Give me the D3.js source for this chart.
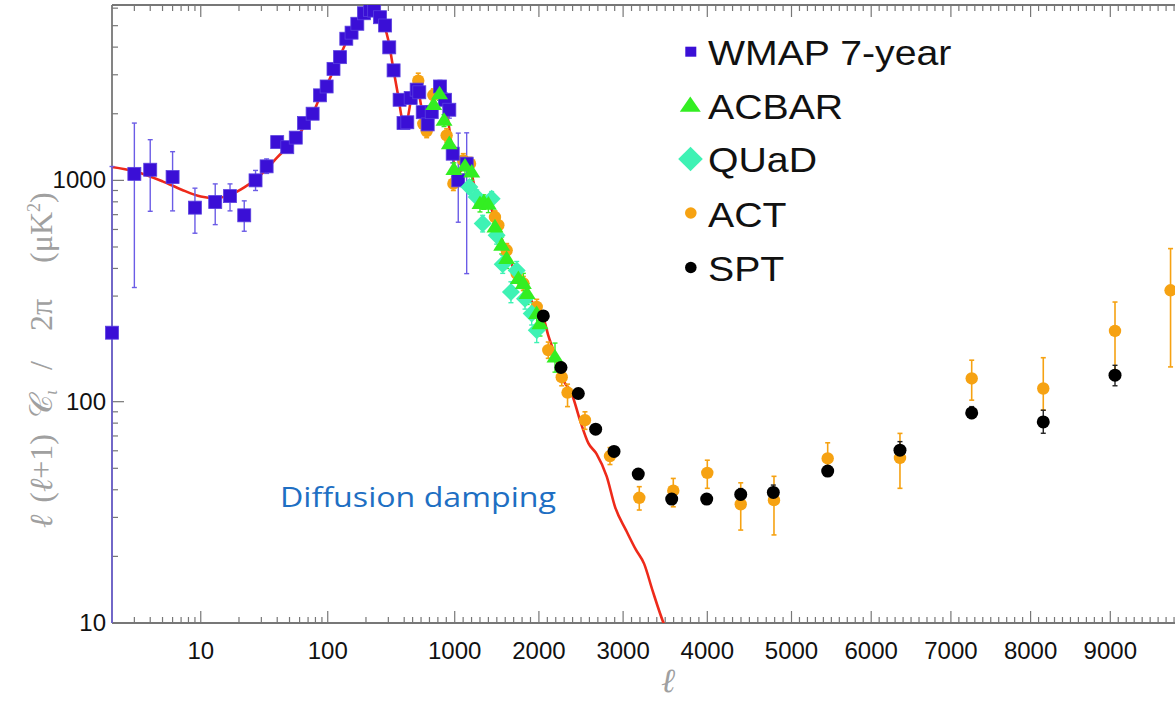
<!DOCTYPE html>
<html><head><meta charset="utf-8">
<script src="https://cdn.jsdelivr.net/npm/d3@7"></script>
<style>html,body{margin:0;padding:0;background:#fff;} svg{display:block}</style>
</head><body>
<svg id="chart" width="1175" height="716"></svg>
<script>
// ---------- DATA ----------
const wmapEll = [2, 3, 4, 6, 9, 13, 17, 22, 27, 33, 40, 48, 56, 65, 76, 87, 98, 111, 125, 140, 154, 171, 193, 215, 232, 258, 283, 305, 330, 368, 395, 437, 477, 548, 579, 620, 679, 727, 825, 885, 936, 976, 1042, 1142];
const wmapVal = [205, 1070, 1117, 1035, 753, 798, 849, 695, 1000, 1157, 1489, 1412, 1560, 1815, 2001, 2422, 2656, 3190, 3604, 4365, 4650, 5100, 5690, 5890, 5850, 5460, 5010, 3990, 3140, 2313, 1815, 1830, 2355, 2570, 2500, 2033, 1790, 2033, 2656, 2313, 2085, 1320, 1000, 1190];
const wmapLo  = [5, 328, 725, 728, 577, 631, 728, 589, 900, 1075, 1420, 1350, 1500, 1750, 1930, 2340, 2570, 3090, 3500, 4250, 4540, 4990, 5580, 5780, 5740, 5350, 4900, 3890, 3050, 2230, 1740, 1740, 2240, 2430, 2360, 1900, 1650, 1880, 2480, 2140, 1910, 1200, 647, 379];
const wmapHi  = [1155, 1815, 1527, 1348, 922, 964, 964, 808, 1109, 1250, 1560, 1480, 1620, 1880, 2070, 2500, 2740, 3290, 3710, 4480, 4760, 5210, 5800, 6000, 5960, 5570, 5120, 4090, 3230, 2400, 1890, 1920, 2470, 2710, 2640, 2170, 1930, 2190, 2830, 2490, 2260, 1440, 1635, 1640];

const acbarEll = [750, 820, 873, 936, 990, 1122, 1202, 1300, 1345, 1400, 1478, 1558, 1617, 1756, 1815, 1860, 1973, 2013, 2191];
const acbarVal = [2200, 2460, 1866, 1464, 1120, 1160, 1090, 785, 800, 780, 616, 509, 443, 360, 342, 308, 250, 225, 159];
const acbarLo  = [2060, 2300, 1750, 1370, 1040, 1070, 1000, 720, 740, 715, 565, 465, 400, 325, 305, 275, 222, 198, 136];
const acbarHi  = [2340, 2620, 1980, 1560, 1200, 1250, 1180, 850, 860, 845, 670, 555, 485, 395, 380, 342, 280, 255, 184];

const quadEll = [1174, 1261, 1332, 1439, 1498, 1570, 1668, 1736, 1835, 1914, 1974];
const quadVal = [934, 841, 638, 827, 565, 418, 313, 392, 292, 250, 210];
const quadLo  = [870, 780, 585, 765, 515, 380, 280, 355, 262, 222, 185];
const quadHi  = [1000, 905, 695, 890, 615, 458, 348, 430, 325, 280, 238];

const actEll = [567, 627, 667, 746, 904, 984, 1102, 1182, 1478, 1518, 1617, 1736, 1815, 1974, 2111, 2271, 2340, 2547, 2844, 3192, 3596, 4000, 4397, 4792, 5454, 6361, 7261, 8159, 9059, 9756];
const actVal = [2820, 1800, 1670, 2430, 1597, 966, 1231, 1189, 683, 627, 483, 379, 342, 268, 171, 129, 110, 82.5, 56.8, 36.8, 39.6, 47.7, 34.4, 35.9, 55.4, 55.7, 127.3, 114.7, 208.7, 318.7];
const actLo  = [2600, 1680, 1560, 2280, 1490, 900, 1150, 1110, 640, 585, 450, 352, 318, 248, 157, 118, 95, 75, 52, 32.4, 33.5, 40.6, 26.3, 25, 47, 40.6, 101.6, 91.5, 131.7, 143.6];
const actHi  = [3050, 1920, 1790, 2590, 1710, 1035, 1320, 1270, 728, 670, 518, 406, 368, 290, 186, 141, 120, 90, 62, 41.3, 45, 54.4, 43, 46, 65.2, 71.9, 154, 158, 282, 491.7];

const sptEll = [2052, 2262, 2468, 2674, 2892, 3180, 3577, 3993, 4397, 4784, 5454, 6361, 7261, 8159, 9059];
const sptVal = [244, 142.7, 108.9, 75.1, 59.6, 47.1, 36.3, 36.3, 38.1, 38.9, 48.6, 60.4, 89, 81, 131.7];
const sptLo  = [236, 138, 105, 72.5, 57.5, 45.3, 34.8, 34.8, 36, 36.3, 46.5, 55, 84, 72, 118];
const sptHi  = [252, 147, 113, 78, 62, 49, 38, 38, 40.5, 42, 51, 66, 95, 91.5, 146];

const theoryEll = [2,3,5,7,10,13,17,22,27,33,40,48,56,65,76,87,100,111,125,141,160,190,220,240,258,280,300,330,360,385,410,440,480,528,570,608,650,700,750,805,850,904,964,1003,1050,1120,1180,1260,1320,1400,1450,1500,1600,1700,1800,1900,2000,2052,2110,2171,2290,2389,2488,2587,2686,2805,2904,3034,3150,3250,3350,3480,3560];
const theoryVal = [1150,1100,990,910,845,830,860,930,1010,1125,1270,1410,1560,1740,2000,2380,2750,3140,3650,4262,4950,5600,5900,5800,5500,4950,4300,3140,2380,1890,1790,1900,2300,2620,2500,2100,1800,1900,2250,2580,2450,2050,1430,1120,1080,1180,1130,860,790,800,720,640,490,400,345,290,255,240,200,171,125,109,82.5,65,58,46,33.5,26.3,21.5,18.5,14,10,8.5];

const xMajorTicks = [10, 100, 1000, 2000, 3000, 4000, 5000, 6000, 7000, 8000, 9000];
const xTickLabels = ["10", "100", "1000", "2000", "3000", "4000", "5000", "6000", "7000", "8000", "9000"];
const yMajorTicks = [10, 100, 1000];
const yTickLabels = ["10", "100", "1000"];
const legendNames = ["WMAP 7-year", "ACBAR", "QUaD", "ACT", "SPT"];

// ---------- SCALES ----------
const svg = d3.select("#chart");
const P = {left:112, top:5, bottom:623, right:1190};
const xLog = d3.scaleLog().domain([2, 400]).range([P.left, 404.2]);
const xLin = d3.scaleLinear().domain([400, 5000, 10000]).range([404.2, 791.5, 1190]);
const x = l => l <= 400 ? xLog(l) : xLin(l);
const y = d3.scaleLog().domain([10, 6200]).range([P.bottom, P.top]);

const colors = {wmap:"#3a0fd6", wmapErr:"#6b5ce6", acbar:"#33ee22", quad:"#3ef2b4", act:"#f6a212", spt:"#000000", theory:"#ee2a1a"};

svg.append("rect").attr("width",1175).attr("height",716).attr("fill","#fff");
const defs = svg.append("defs");
defs.append("clipPath").attr("id","clip").append("rect")
  .attr("x",P.left-8).attr("y",P.top).attr("width",P.right-P.left+8).attr("height",P.bottom-P.top);

// ---------- AXES ----------
const axisCol = "#777";
const ax = svg.append("g");
const xMinor = [];
[3,4,5,6,7,8,9,20,30,40,50,60,70,80,90,200,300,400].forEach(v=>xMinor.push(v));
for (let v=500; v<=10000; v+=100) if (v%1000!==0) xMinor.push(v);
const yMinor = [];
[20,30,40,50,60,70,80,90,200,300,400,500,600,700,800,900,2000,3000,4000,5000,6000].forEach(v=>yMinor.push(v));

function xtick(v, len){
  const px = x(v);
  if (px > 1176) return;
  ax.append("line").attr("x1",px).attr("x2",px).attr("y1",P.bottom).attr("y2",P.bottom-len).attr("stroke",axisCol).attr("stroke-width",1.2);
  ax.append("line").attr("x1",px).attr("x2",px).attr("y1",P.top).attr("y2",P.top+len).attr("stroke",axisCol).attr("stroke-width",1.2);
}
xMinor.forEach(v=>xtick(v,6));
xMajorTicks.forEach(v=>xtick(v,12));
function ytick(v,len){
  const py = y(v);
  ax.append("line").attr("x1",P.left).attr("x2",P.left+len).attr("y1",py).attr("y2",py).attr("stroke",axisCol).attr("stroke-width",1.2);
}
yMinor.forEach(v=>ytick(v,6));
yMajorTicks.forEach(v=>ytick(v,12));
ax.append("line").attr("x1",P.left).attr("x2",1175).attr("y1",P.bottom).attr("y2",P.bottom).attr("stroke",axisCol).attr("stroke-width",1.8);
ax.append("line").attr("x1",P.left).attr("x2",1175).attr("y1",P.top).attr("y2",P.top).attr("stroke",axisCol).attr("stroke-width",1.8);
ax.append("line").attr("x1",P.left).attr("x2",P.left).attr("y1",P.top).attr("y2",P.bottom).attr("stroke",axisCol).attr("stroke-width",1.8);

svg.append("g").selectAll("text").data(xMajorTicks).join("text")
  .attr("x",d=>x(d)).attr("y",659).attr("text-anchor","middle")
  .attr("font-family","Liberation Sans, Arial, Helvetica, sans-serif").attr("font-size",24).attr("fill","#111")
  .text((d,i)=>xTickLabels[i]);
svg.append("g").selectAll("text").data(yMajorTicks).join("text")
  .attr("x",106).attr("y",d=>y(d)+8).attr("text-anchor","end")
  .attr("font-family","Liberation Sans, Arial, Helvetica, sans-serif").attr("font-size",24).attr("fill","#111")
  .text((d,i)=>yTickLabels[i]);

// axis titles
const yt = svg.append("text").attr("transform","translate(52,528) rotate(-90)").attr("text-anchor","start")
  .attr("font-family","Liberation Serif, DejaVu Serif, serif").attr("font-size",32).attr("fill","#a0a0a0");
yt.append("tspan").attr("font-style","italic").text("ℓ");
yt.append("tspan").attr("dx",12).text("(");
yt.append("tspan").attr("font-style","italic").text("ℓ");
yt.append("tspan").text("+1)");
yt.append("tspan").attr("dx",16).text("𝒞");
yt.append("tspan").attr("font-size",18).attr("dy",5).attr("font-style","italic").text("ι");
yt.append("tspan").attr("dx",20).attr("dy",-5).text("/");
yt.append("tspan").attr("dx",30).text("2π");
yt.append("tspan").attr("dx",36).text("(μK");
yt.append("tspan").attr("font-size",18).attr("dy",-12).text("2");
yt.append("tspan").attr("dy",12).text(")");

svg.append("text").attr("x",668).attr("y",692).attr("text-anchor","middle")
  .attr("font-family","DejaVu Serif, Liberation Serif, serif").attr("font-style","italic").attr("font-size",34).attr("fill","#a0a0a0")
  .text("ℓ");

// ---------- PLOT ----------
const g = svg.append("g").attr("clip-path","url(#clip)");

const line = d3.line().x(d=>x(d[0])).y(d=>y(d[1])).curve(d3.curveMonotoneX);
g.append("path").datum(theoryEll.map((l,i)=>[l,theoryVal[i]]))
  .attr("d",line).attr("fill","none").attr("stroke",colors.theory).attr("stroke-width",2.6);

function errbars(ell, lo, hi, col, w){
  const eg = g.append("g").attr("stroke",col).attr("stroke-width",w).attr("fill","none");
  ell.forEach((l,i)=>{
    const px = x(l);
    eg.append("line").attr("x1",px).attr("x2",px).attr("y1",y(lo[i])).attr("y2",y(hi[i]));
    [lo[i],hi[i]].forEach(v=>{
      eg.append("line").attr("x1",px-2.5).attr("x2",px+2.5).attr("y1",y(v)).attr("y2",y(v));
    });
  });
}
errbars(wmapEll, wmapLo, wmapHi, colors.wmapErr, 1.4);
errbars(actEll, actLo, actHi, colors.act, 1.6);
errbars(quadEll, quadLo, quadHi, colors.quad, 1.4);
errbars(acbarEll, acbarLo, acbarHi, colors.acbar, 1.4);
errbars(sptEll, sptLo, sptHi, "#222", 1.4);

const tri = (cx,cy,s)=>{const h=s*0.8;return `M${cx},${cy-h*0.6}L${cx+s/2},${cy+h*0.4}L${cx-s/2},${cy+h*0.4}Z`;};
const dia = (cx,cy,r)=>`M${cx},${cy-r}L${cx+r},${cy}L${cx},${cy+r}L${cx-r},${cy}Z`;

g.append("g").selectAll("circle").data(actEll).join("circle")
  .attr("cx",d=>x(d)).attr("cy",(d,i)=>y(actVal[i])).attr("r",6.2).attr("fill",colors.act);
g.append("g").selectAll("rect").data(wmapEll).join("rect")
  .attr("x",d=>x(d)-6.5).attr("y",(d,i)=>y(wmapVal[i])-6.5).attr("width",13).attr("height",13)
  .attr("fill",colors.wmap).attr("stroke","#5a40e0").attr("stroke-width",0.8);
g.append("g").selectAll("path").data(quadEll).join("path")
  .attr("d",(d,i)=>dia(x(d),y(quadVal[i]),9)).attr("fill",colors.quad);
g.append("g").selectAll("path").data(acbarEll).join("path")
  .attr("d",(d,i)=>tri(x(d),y(acbarVal[i]),17)).attr("fill",colors.acbar);
g.append("g").selectAll("circle").data(sptEll).join("circle")
  .attr("cx",d=>x(d)).attr("cy",(d,i)=>y(sptVal[i])).attr("r",6.5).attr("fill",colors.spt);

// ---------- LEGEND ----------
const lg = svg.append("g");
const baseY = [64.5, 118.5, 172, 226.5, 280.5];
lg.append("rect").attr("x",685.3).attr("y",46.7).attr("width",11).attr("height",10).attr("fill",colors.wmap);
lg.append("path").attr("d",`M690.3,96.5L700.8,111.7L679.8,111.7Z`).attr("fill",colors.acbar);
lg.append("path").attr("d",dia(690.5,159,12.3)).attr("fill",colors.quad);
lg.append("circle").attr("cx",690.8).attr("cy",213).attr("r",5.8).attr("fill",colors.act);
lg.append("circle").attr("cx",690.8).attr("cy",267.5).attr("r",5.8).attr("fill",colors.spt);
legendNames.forEach((n,i)=>{
  lg.append("text").attr("transform",`translate(708,${baseY[i]}) scale(1.09,1)`)
    .attr("font-family","Liberation Sans, Arial, Helvetica, sans-serif").attr("font-size",36).attr("fill","#111")
    .text(n);
});

svg.append("text").attr("x",280).attr("y",507).attr("font-family","Open Sans, Lato, sans-serif")
  .attr("font-size",28).attr("fill","#1e6fc3").attr("textLength",276).attr("lengthAdjust","spacingAndGlyphs")
  .text("Diffusion damping");
</script>
</body></html>
